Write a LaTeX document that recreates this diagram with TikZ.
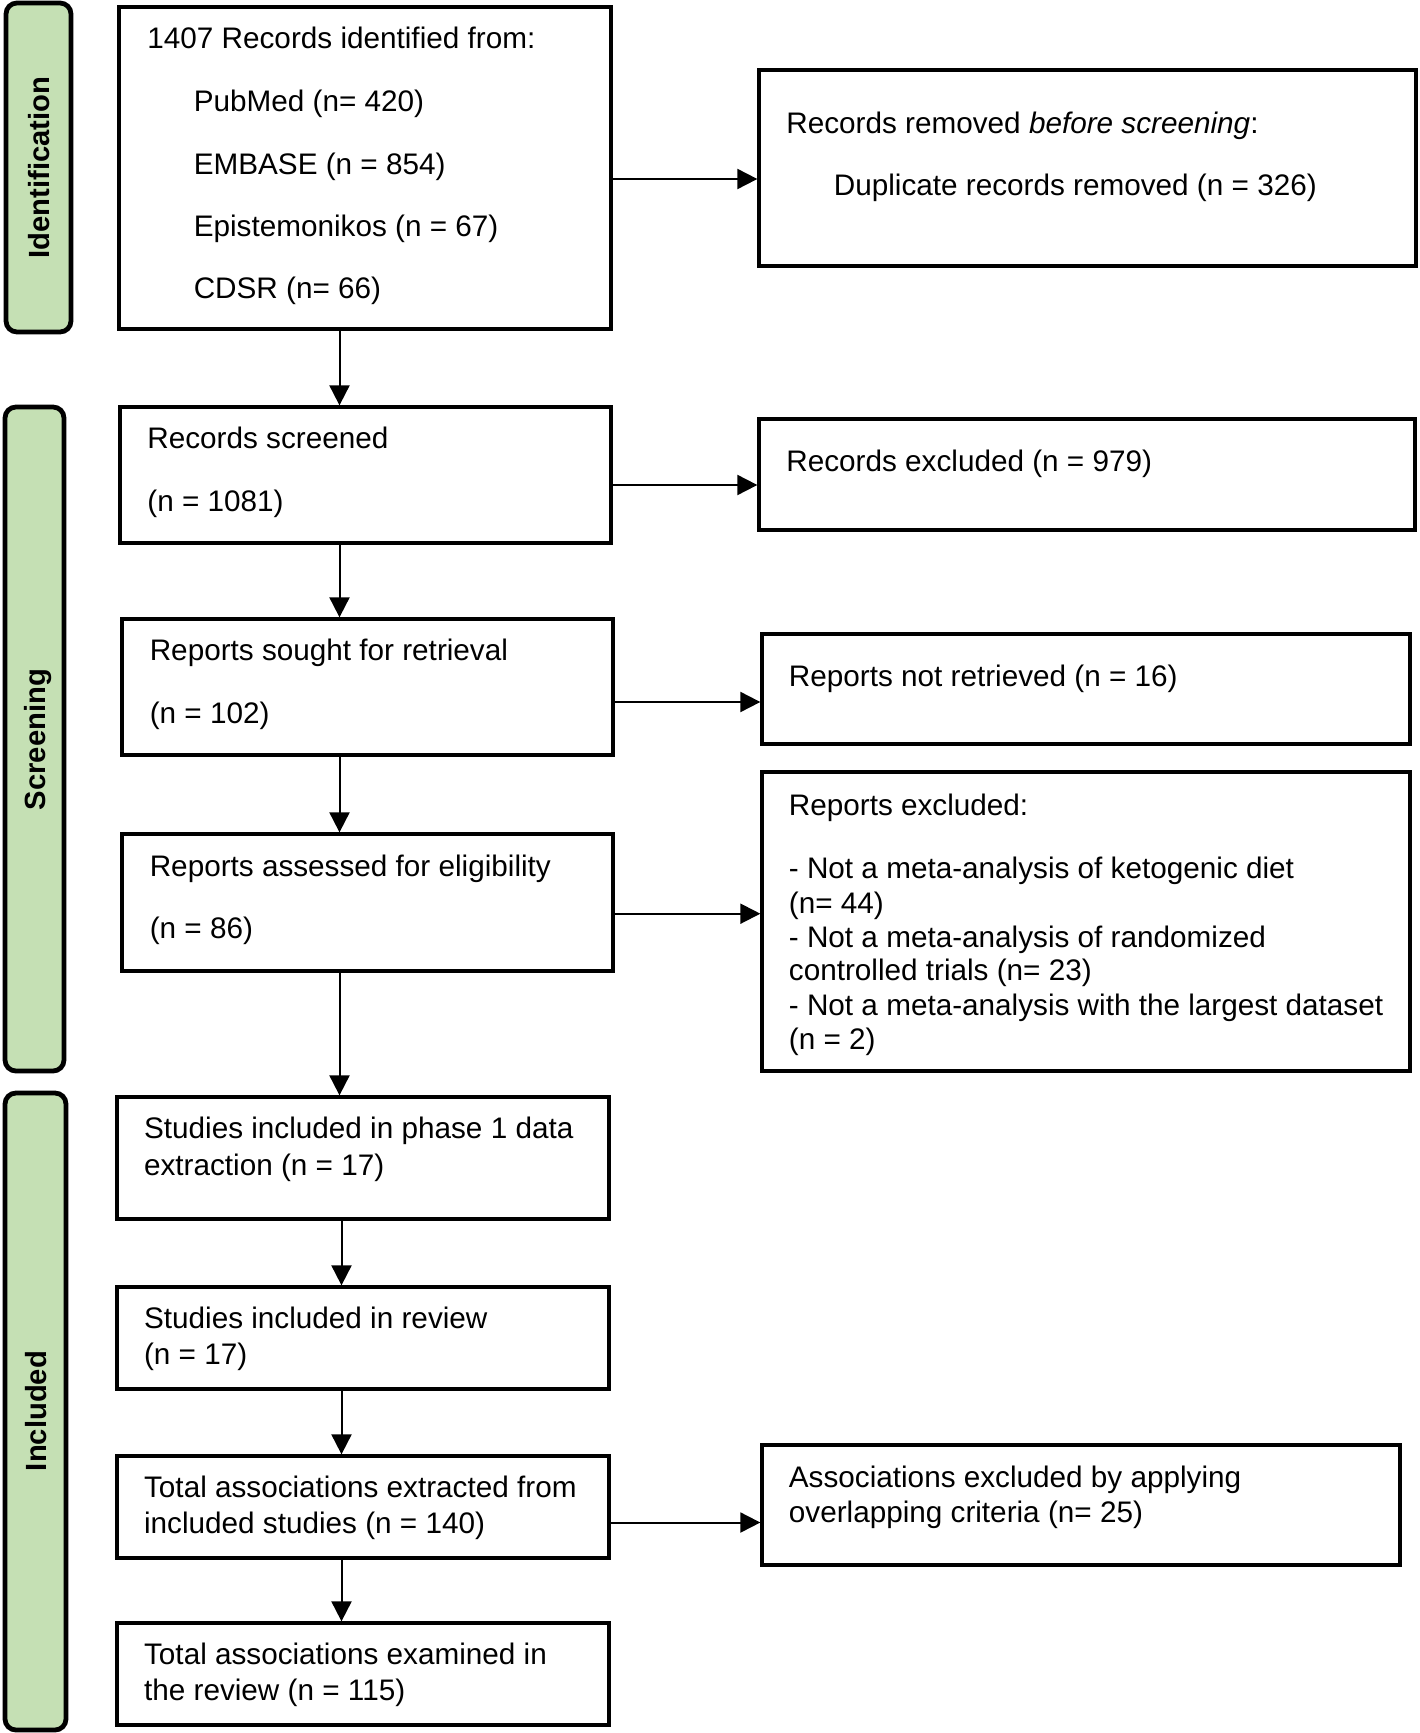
\documentclass[tikz,border=0pt]{standalone}
\usepackage{fontspec}
\setmainfont{Liberation Sans}
\usetikzlibrary{arrows.meta,fit}
\definecolor{bargreen}{RGB}{197,224,180}
\begin{document}
\begin{tikzpicture}[x=0.5pt,y=-0.5pt,
  box/.style={draw, line width=1.65pt, rectangle, inner sep=0pt},
  bar/.style={draw, line width=2.4pt, fill=bargreen, rectangle, rounded corners=5.5pt, inner sep=0pt},
  txt/.style={anchor=base west, inner sep=0pt, font=\fontsize{14.85pt}{17pt}\selectfont},
  lbl/.style={rotate=90, inner sep=0pt, font=\fontsize{14.6pt}{17pt}\selectfont\bfseries},
  arr/.style={line width=1pt, -{Triangle[length=10pt,width=10pt]}}]
\fill[white] (0,0) rectangle (1419,1733);
\useasboundingbox (0,0) rectangle (1419,1733);

% phase bars
\node[bar, fit={(6,3) (71,332)}] (barid) {};
\node[bar, fit={(5,407) (64,1071)}] (barsc) {};
\node[bar, fit={(5,1093) (66,1730)}] (barin) {};
\node[lbl] (lid) at (39.5,167.5) {Identification};
\node[lbl] (lsc) at (38,739.5) {Screening};
\node[lbl] (lin) at (36.4,1411) {Included};

% boxes
\node[box, fit={(119,7) (611,329)}] (A) {};
\node[box, fit={(759,70) (1416,266)}] (B) {};
\node[box, fit={(120,407) (611,543)}] (C) {};
\node[box, fit={(759,419) (1415,530)}] (D) {};
\node[box, fit={(122,619) (613,755)}] (E) {};
\node[box, fit={(762,634) (1410,744)}] (F) {};
\node[box, fit={(122,834) (613,971)}] (G) {};
\node[box, fit={(762,772) (1410,1071)}] (H) {};
\node[box, fit={(117,1097) (609,1219)}] (I) {};
\node[box, fit={(117,1287) (609,1389)}] (J) {};
\node[box, fit={(117,1456) (609,1558)}] (K) {};
\node[box, fit={(762,1445) (1400,1565)}] (L) {};
\node[box, fit={(117,1623) (609,1725)}] (M) {};

% texts
\node[txt] (a1) at (147,48.7) {1407 Records identified from:};
\node[txt] (a2) at (193.4,111.7) {PubMed (n= 420)};
\node[txt] (a3) at (193.4,174.2) {EMBASE (n = 854)};
\node[txt] (a4) at (193.4,236.5) {Epistemonikos (n = 67)};
\node[txt] (a5) at (193.4,299) {CDSR (n= 66)};

\node[txt] (b1) at (786,133.8) {Records removed \textit{before screening}:};
\node[txt] (b2) at (833.5,195.7) {Duplicate records removed (n = 326)};

\node[txt] (c1) at (147,448.3) {Records screened};
\node[txt] (c2) at (147,511) {(n = 1081)};

\node[txt] (d1) at (786,471.7) {Records excluded (n = 979)};

\node[txt] (e1) at (149.4,660.6) {Reports sought for retrieval};
\node[txt] (e2) at (149.4,723.2) {(n = 102)};

\node[txt] (f1) at (788.5,686) {Reports not retrieved (n = 16)};

\node[txt] (g1) at (149.4,876) {Reports assessed for eligibility};
\node[txt] (g2) at (149.4,938.2) {(n = 86)};

\node[txt] (h1) at (788.5,815.3) {Reports excluded:};
\node[txt] (h2) at (788.5,878.2) {- Not a meta-analysis of ketogenic diet};
\node[txt] (h3) at (788.5,913.6) {(n= 44)};
\node[txt] (h4) at (788.5,947) {- Not a meta-analysis of randomized};
\node[txt] (h5) at (788.5,980.8) {controlled trials (n= 23)};
\node[txt] (h6) at (788.5,1015.2) {- Not a meta-analysis with the largest dataset};
\node[txt] (h7) at (788.5,1049.7) {(n = 2)};

\node[txt] (i1) at (143.7,1138.8) {Studies included in phase 1 data};
\node[txt] (i2) at (143.7,1175.2) {extraction (n = 17)};

\node[txt] (j1) at (143.7,1328.3) {Studies included in review};
\node[txt] (j2) at (143.7,1364.7) {(n = 17)};

\node[txt] (k1) at (143.7,1497.3) {Total associations extracted from};
\node[txt] (k2) at (143.7,1533.8) {included studies (n = 140)};

\node[txt] (l1) at (788.5,1487.6) {Associations excluded by applying};
\node[txt] (l2) at (788.5,1522.9) {overlapping criteria (n= 25)};

\node[txt] (m1) at (143.7,1664.2) {Total associations examined in};
\node[txt] (m2) at (143.7,1700.7) {the review (n = 115)};

% connectors
\coordinate (vx1) at (339.5,0);
\coordinate (vx2) at (341.5,0);
\draw[arr] (A.south -| vx1) -- (C.north -| vx1);
\draw[arr] (C.south -| vx1) -- (E.north -| vx1);
\draw[arr] (E.south -| vx1) -- (G.north -| vx1);
\draw[arr] (G.south -| vx1) -- (I.north -| vx1);
\draw[arr] (I.south -| vx2) -- (J.north -| vx2);
\draw[arr] (J.south -| vx2) -- (K.north -| vx2);
\draw[arr] (K.south -| vx2) -- (M.north -| vx2);

\coordinate (hy1) at (0,179);
\coordinate (hy2) at (0,485);
\coordinate (hy3) at (0,702);
\coordinate (hy4) at (0,913.7);
\coordinate (hy5) at (0,1522.5);
\draw[arr] (A.east |- hy1) -- (B.west |- hy1);
\draw[arr] (C.east |- hy2) -- (D.west |- hy2);
\draw[arr] (E.east |- hy3) -- (F.west |- hy3);
\draw[arr] (G.east |- hy4) -- (H.west |- hy4);
\draw[arr] (K.east |- hy5) -- (L.west |- hy5);
\end{tikzpicture}
\end{document}
